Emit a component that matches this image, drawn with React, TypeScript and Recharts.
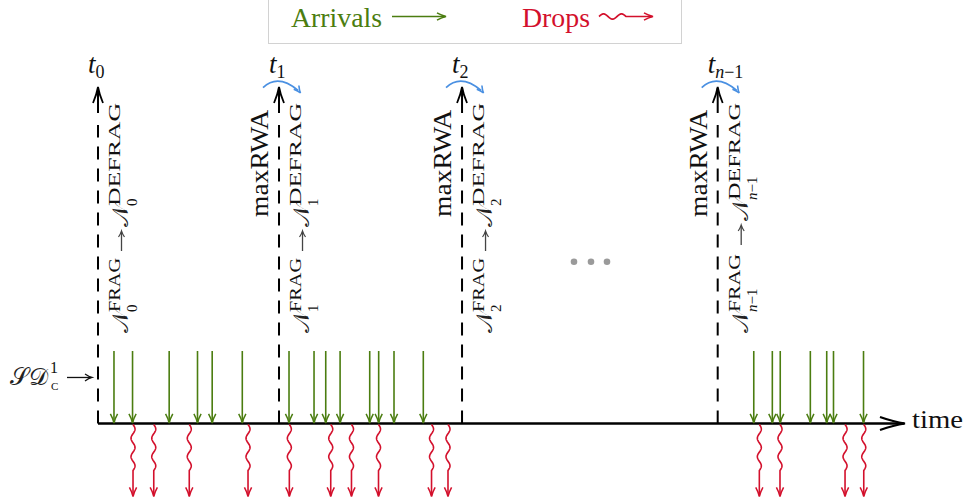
import React from 'react';
import { ComposedChart, Scatter, XAxis, YAxis, ReferenceLine, Legend } from 'recharts';

// ---- data (time units, 0 = t0, axis runs 0..100) ----
const epochTimes = [0, 22.43, 45.11, 76.79];
const epochSubs = ['0', '1', '2', 'n-1'];
const arrivalTimes = [1.98, 4.28, 8.82, 12.33, 14.15, 17.88, 23.67, 26.77, 28.22, 30.0, 33.67, 34.78, 36.68, 40.31, 81.26, 83.56, 84.54, 88.27, 90.3, 91.14, 94.86];
const dropTimes = [4.34, 6.91, 11.31, 18.59, 23.71, 28.84, 31.41, 34.76, 41.33, 43.37, 81.95, 84.51, 92.57, 94.89];
const ellipsisTime = 61.09;
const ellipsisLevel = 2.23;
const axisEnd = 100;
const epochLineTop = 4.117;
const legendLabels = ['Arrivals', 'Drops'];

// ---- styles ----
const GREEN = '#4b7d10';
const RED = '#d3102c';
const BLUE = '#4a90e2';
const SERIF = '"Liberation Serif", "DejaVu Serif", serif';
const SCRIPT = '"DejaVu Serif", "DejaVu Sans", "Noto Sans", serif';
const Y_UNIT = 72.5;

function head(tx: number, ty: number, dx: number, dy: number, len: number, half: number) {
  const px = -dy, py = dx;
  const bx = tx - dx * len, by = ty - dy * len;
  const mx = tx - dx * len * 0.45, my = ty - dy * len * 0.45;
  return `M${bx + px * half},${by + py * half} Q${mx + px * half * 0.25},${my + py * half * 0.25} ${tx},${ty} Q${mx - px * half * 0.25},${my - py * half * 0.25} ${bx - px * half},${by - py * half}`;
}

function wavyV(x: number, y0: number, len: number, amp: number, period: number) {
  let d = `M${x},${y0}`;
  for (let s = 0.5; s <= len; s += 0.5) {
    d += ` L${(x + amp * Math.sin((2 * Math.PI * s) / period)).toFixed(2)},${(y0 + s).toFixed(2)}`;
  }
  return d;
}

function wavyH(x0: number, y: number, len: number, amp: number, period: number) {
  let d = `M${x0},${y}`;
  for (let s = 0.5; s <= len; s += 0.5) {
    d += ` L${(x0 + s).toFixed(2)},${(y - amp * Math.sin((2 * Math.PI * s) / period)).toFixed(2)}`;
  }
  return d;
}

const Sub = ({ s, size }: { s: string; size: number }) => {
  if (s === 'n-1') {
    return (
      <>
        <tspan fontStyle="italic" fontSize={size}>n</tspan>
        <tspan fontSize={size}>−1</tspan>
      </>
    );
  }
  return <tspan fontSize={size}>{s}</tspan>;
};

const ArrivalShape = (props: any) => {
  const { cx, cy } = props;
  const top = cy - Y_UNIT;
  return (
    <g>
      <line x1={cx} y1={top} x2={cx} y2={cy - 1.5} stroke={GREEN} strokeWidth={1.6} />
      <path d={head(cx, cy - 0.5, 0, 1, 9, 3.6)} fill="none" stroke={GREEN} strokeWidth={1.5} />
    </g>
  );
};

const DropShape = (props: any) => {
  const { cx, cy } = props;
  const y0 = cy + 1;
  const tip = cy + Y_UNIT + 0.5;
  const d = wavyV(cx, y0, 46, 2, 18.4) + ` L${cx},${tip - 1}`;
  return (
    <g>
      <path d={d} fill="none" stroke={RED} strokeWidth={1.6} />
      <path d={head(cx, tip, 0, 1, 9, 3.6)} fill="none" stroke={RED} strokeWidth={1.5} />
    </g>
  );
};

const EpochShape = (props: any) => {
  const { cx, cy, payload } = props;
  const sub = payload.sub as string;
  const isFirst = payload.idx === 0;
  const tipY = cy - 336.5;
  const isN = sub === 'n-1';
  const supLen1 = isN ? 58 : 54;
  const arrowAt = isN ? 88 : 82;
  const n2At = isN ? 112 : 106;
  const defragAt = n2At + 21;
  const defragLen = 230 - defragAt;
  return (
    <g>
      <line x1={cx} y1={cy - 310.5} x2={cx} y2={tipY + 1} stroke="#000" strokeWidth={2} />
      <path d={head(cx, tipY, 0, -1, 16, 5)} fill="none" stroke="#000" strokeWidth={1.8} />
      <text x={cx - 10} y={cy - 350.5} fontFamily={SERIF} fontSize={27} fill="#111">
        <tspan fontStyle="italic">t</tspan>
        <tspan dy={5}><Sub s={sub} size={18} /></tspan>
      </text>
      {!isFirst && (
        <>
          <path
            d={`M${cx - 16},${cy - 335.8} Q${cx - 1},${cy - 350} ${cx + 19},${cy - 333}`}
            fill="none"
            stroke={BLUE}
            strokeWidth={1.7}
          />
          <path d={head(cx + 21.5, cy - 330.5, 0.6, 0.8, 7, 3.2)} fill="none" stroke={BLUE} strokeWidth={1.6} />
          <text
            transform={`translate(${cx - 11},${cy - 206.5}) rotate(-90)`}
            fontFamily={SERIF}
            fontSize={25}
            fill="#111"
            textLength={107}
            lengthAdjust="spacingAndGlyphs"
          >
            maxRWA
          </text>
        </>
      )}
      <g transform={`translate(${cx + 30},${cy - 90.5}) rotate(-90)`} fill="#111">
        <text x={0} y={0} fontFamily={SCRIPT} fontSize={23} fill="#222">𝒩</text>
        <text x={21} y={-8} fontFamily={SERIF} fontSize={16} textLength={supLen1} lengthAdjust="spacingAndGlyphs">FRAG</text>
        <text x={21} y={9} fontFamily={SERIF}><Sub s={sub} size={15} /></text>
        <line x1={arrowAt} y1={-6.5} x2={arrowAt + 19} y2={-6.5} stroke="#444" strokeWidth={1.3} />
        <path d={head(arrowAt + 20, -6.5, 1, 0, 6, 3)} fill="none" stroke="#444" strokeWidth={1.2} />
        <text x={n2At} y={0} fontFamily={SCRIPT} fontSize={23} fill="#222">𝒩</text>
        <text x={defragAt} y={-8} fontFamily={SERIF} fontSize={16} textLength={defragLen} lengthAdjust="spacingAndGlyphs">DEFRAG</text>
        <text x={defragAt} y={9} fontFamily={SERIF}><Sub s={sub} size={15} /></text>
      </g>
    </g>
  );
};

const StreamLabelShape = (props: any) => {
  const { cx, cy } = props;
  const ay = cy - 46;
  return (
    <g fill="#111">
      <text x={cx - 88} y={cy - 38.5} fontFamily={SCRIPT} fontSize={24} fill="#222">𝒮𝒟</text>
      <text x={cx - 48} y={cy - 50.5} fontFamily={SERIF} fontSize={16}>1</text>
      <text x={cx - 47} y={cy - 33.5} fontFamily={SERIF} fontSize={11}>C</text>
      <line x1={cx - 31} y1={ay} x2={cx - 7} y2={ay} stroke="#111" strokeWidth={1.3} />
      <path d={head(cx - 6, ay, 1, 0, 7, 3.5)} fill="none" stroke="#111" strokeWidth={1.3} />
    </g>
  );
};

const AxisEndShape = (props: any) => {
  const { cx, cy } = props;
  return (
    <g>
      <path d={head(cx, cy, 1, 0, 25, 6.5)} fill="none" stroke="#000" strokeWidth={2.2} />
      <text x={cx + 7} y={cy + 5} fontFamily={SERIF} fontSize={26} fill="#111" textLength={51} lengthAdjust="spacingAndGlyphs">time</text>
    </g>
  );
};

const EllipsisShape = (props: any) => {
  const { cx, cy } = props;
  return (
    <g fill="#9a9a9a">
      <circle cx={cx - 17} cy={cy} r={3.3} />
      <circle cx={cx} cy={cy} r={3.3} />
      <circle cx={cx + 16} cy={cy} r={3.3} />
    </g>
  );
};

const LegendBox = () => (
  <div style={{ width: 414, height: 46, boxSizing: 'border-box', border: '1.5px solid #d2d2d2', background: '#fff' }}>
    <svg width={411} height={43} style={{ display: 'block' }}>
      <text x={22} y={27.5} fontFamily={SERIF} fontSize={27} fill={GREEN} textLength={91} lengthAdjust="spacingAndGlyphs">
        {legendLabels[0]}
      </text>
      <line x1={123} y1={17.5} x2={176} y2={17.5} stroke={GREEN} strokeWidth={1.7} />
      <path d={head(177, 17.5, 1, 0, 9, 3.6)} fill="none" stroke={GREEN} strokeWidth={1.6} />
      <text x={253} y={27.5} fontFamily={SERIF} fontSize={27} fill={RED} textLength={68} lengthAdjust="spacingAndGlyphs">
        {legendLabels[1]}
      </text>
      <path d={wavyH(330, 17.5, 27, 2.6, 18) + ' L383,17.5'} fill="none" stroke={RED} strokeWidth={1.7} />
      <path d={head(384, 17.5, 1, 0, 9, 3.6)} fill="none" stroke={RED} strokeWidth={1.6} />
    </svg>
  </div>
);

export default function App() {
  const arrivals = arrivalTimes.map((t) => ({ x: t, y: 0 }));
  const drops = dropTimes.map((t) => ({ x: t, y: 0 }));
  const epochs = epochTimes.map((t, i) => ({ x: t, y: 0, sub: epochSubs[i], idx: i }));
  return (
    <div style={{ position: 'absolute', left: 0, top: 0, width: 967, height: 503, background: '#fff' }}>
      <ComposedChart width={967} height={503} margin={{ top: 87, right: 62, bottom: 6, left: 98 }} style={{ overflow: 'visible' }}>
        <XAxis type="number" dataKey="x" domain={[0, 100]} hide />
        <YAxis type="number" dataKey="y" domain={[-1.014, 4.641]} hide />
        <Legend
          content={<LegendBox />}
          layout="horizontal"
          verticalAlign="middle"
          align="center"
          wrapperStyle={{ position: 'absolute', top: -2, left: 268, width: 414, height: 46 }}
        />
        {epochTimes.map((t, i) => (
          <ReferenceLine
            key={'ep' + i}
            segment={[{ x: t, y: 0 }, { x: t, y: epochLineTop }]}
            stroke="#000"
            strokeWidth={2}
            strokeDasharray="13 9"
          />
        ))}
        <ReferenceLine segment={[{ x: 0, y: 0 }, { x: axisEnd - 0.1, y: 0 }]} stroke="#000" strokeWidth={2.6} />
        <Scatter data={epochs} shape={EpochShape} isAnimationActive={false} legendType="none" />
        <Scatter data={[{ x: 0, y: 0 }]} shape={StreamLabelShape} isAnimationActive={false} legendType="none" />
        <Scatter data={[{ x: axisEnd, y: 0 }]} shape={AxisEndShape} isAnimationActive={false} legendType="none" />
        <Scatter data={[{ x: ellipsisTime, y: ellipsisLevel }]} shape={EllipsisShape} isAnimationActive={false} legendType="none" />
        <Scatter name="Arrivals" data={arrivals} shape={ArrivalShape} isAnimationActive={false} />
        <Scatter name="Drops" data={drops} shape={DropShape} isAnimationActive={false} />
      </ComposedChart>
    </div>
  );
}
